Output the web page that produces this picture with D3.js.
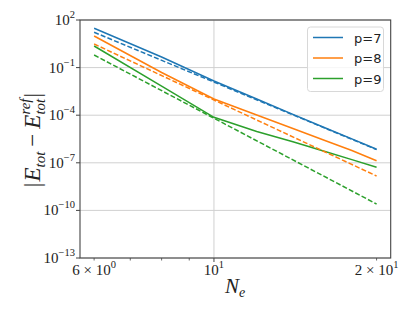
<!DOCTYPE html>
<html><head><meta charset="utf-8">
<script src="https://cdn.jsdelivr.net/npm/d3@7"></script>
<style>body{margin:0;background:#fff}</style>
</head><body><svg id="c" width="415" height="312"></svg>
<script>
// ---- data ----
const Ne = [6, 8, 10, 12, 14, 16, 18, 20];
const errP7 = [30.0, 0.466, 0.0143, 1.04e-3, 1.12e-4, 1.68e-5, 3.2e-6, 7.1e-7];
const errP8 = [9.8, 0.049, 1.05e-3, 1.03e-4, 1.45e-5, 2.66e-6, 5.96e-7, 1.35e-7];
const errP9 = [2.3, 6.9e-3, 7.4e-5, 9.5e-6, 2.1e-6, 5.3e-7, 1.59e-7, 5.2e-8];
const refNe = [6, 20];
const refP7 = [16.8, 6.8e-7];
const refP8 = [3.07, 1.47e-8];
const refP9 = [0.62, 2.53e-10];
const seriesNames = ["p=7", "p=8", "p=9"];
const yTickExps = [2, -1, -4, -7, -10, -13];
const xMajorTicks = [10];
const xMinorTicks = [6, 7, 8, 9, 20];
const xTickLabels = [{v: 6, m: "6 \u00d7 10", e: "0"}, {v: 10, m: "10", e: "1"}, {v: 20, m: "2 \u00d7 10", e: "1"}];

const colors = ["#1f77b4", "#ff7f0e", "#2ca02c"];
const svg = d3.select("#c");
const L = 80, R = 390.7, T = 20, B = 258;
const lx0 = Math.log10(6), lx1 = Math.log10(20), span = lx1 - lx0;
const x = d3.scaleLog().domain([Math.pow(10, lx0 - 0.05 * span), Math.pow(10, lx1 + 0.05 * span)]).range([L, R]);
const y = d3.scaleLog().domain([1e-13, 1e2]).range([B, T]);
const serif = "'Liberation Serif', 'DejaVu Serif', serif";

// grid
const g = svg.append("g");
g.selectAll("line.gy").data(yTickExps).join("line")
  .attr("x1", L).attr("x2", R).attr("y1", d => y(Math.pow(10, d))).attr("y2", d => y(Math.pow(10, d)))
  .attr("stroke", "#d0d0d0").attr("stroke-width", 1);
g.selectAll("line.gx").data(xMajorTicks).join("line")
  .attr("x1", d => x(d)).attr("x2", d => x(d)).attr("y1", T).attr("y2", B)
  .attr("stroke", "#d0d0d0").attr("stroke-width", 1);

// lines
const line = d3.line().x(d => x(d[0])).y(d => y(d[1]));
const solids = [errP7, errP8, errP9];
const refs = [refP7, refP8, refP9];
svg.append("defs").append("clipPath").attr("id", "cl").append("rect")
  .attr("x", L).attr("y", T).attr("width", R - L).attr("height", B - T);
const pg = svg.append("g").attr("clip-path", "url(#cl)");
solids.forEach((s, i) => {
  pg.append("path").attr("d", line(Ne.map((n, k) => [n, s[k]])))
    .attr("fill", "none").attr("stroke", colors[i]).attr("stroke-width", 1.5);
});
refs.forEach((s, i) => {
  pg.append("path").attr("d", line(refNe.map((n, k) => [n, s[k]])))
    .attr("fill", "none").attr("stroke", colors[i]).attr("stroke-width", 1.5)
    .attr("stroke-dasharray", "5,2.2");
});

// frame
svg.append("rect").attr("x", L).attr("y", T).attr("width", R - L).attr("height", B - T)
  .attr("fill", "none").attr("stroke", "#444").attr("stroke-width", 1.1);

// y ticks
yTickExps.forEach(e => {
  const yy = y(Math.pow(10, e));
  svg.append("line").attr("x1", L - 4).attr("x2", L).attr("y1", yy).attr("y2", yy).attr("stroke", "#444").attr("stroke-width", 1);
  const t = svg.append("text").attr("x", L - 5).attr("y", yy + 5).attr("text-anchor", "end")
    .attr("font-family", serif).attr("font-size", 15).attr("fill", "#222");
  t.append("tspan").text("10");
  t.append("tspan").attr("dy", -7).attr("font-size", 10.5).text(e < 0 ? "\u2212" + (-e) : String(e));
});
// x ticks
xMajorTicks.forEach(v => {
  svg.append("line").attr("x1", x(v)).attr("x2", x(v)).attr("y1", B).attr("y2", B + 4).attr("stroke", "#444").attr("stroke-width", 1);
});
xMinorTicks.forEach(v => {
  svg.append("line").attr("x1", x(v)).attr("x2", x(v)).attr("y1", B).attr("y2", B + 2.5).attr("stroke", "#444").attr("stroke-width", 0.8);
});
xTickLabels.forEach(d => {
  const t = svg.append("text").attr("x", x(d.v)).attr("y", B + 17).attr("text-anchor", "middle")
    .attr("font-family", serif).attr("font-size", 15).attr("fill", "#222");
  t.append("tspan").text(d.m);
  t.append("tspan").attr("dy", -7).attr("font-size", 10.5).text(d.e);
});

// x label
const xl = svg.append("text").attr("x", 235).attr("y", 293).attr("text-anchor", "middle")
  .attr("font-family", serif).attr("font-size", 21).attr("font-style", "italic").attr("fill", "#222");
xl.append("tspan").text("N");
xl.append("tspan").attr("dy", 4).attr("font-size", 14).text("e");

// y label composed
const yg = svg.append("g").attr("transform", "translate(33,140) rotate(-90)");
const inner = yg.append("g");
let cx = 0;
function piece(txt, size, italic, dy) {
  const t = inner.append("text").attr("x", cx).attr("y", dy).attr("font-family", serif)
    .attr("font-size", size).attr("font-style", italic ? "italic" : "normal").attr("fill", "#222").text(txt);
  return t.node().getComputedTextLength();
}
cx += piece("|", 23, false, 0) + 1;
cx += piece("E", 23, true, 0);
cx += piece("tot", 15, true, 5) + 5;
cx += piece("\u2212", 23, false, 0) + 5;
cx += piece("E", 23, true, 0);
const w1 = piece("tot", 15, true, 5);
const w2 = piece("ref", 15, true, -10);
cx += Math.max(w1, w2) + 1;
cx += piece("|", 23, false, 0);
inner.attr("transform", `translate(${-cx / 2},7)`);

// legend
const lg = svg.append("g");
lg.append("rect").attr("x", 307.5).attr("y", 27).attr("width", 76).attr("height", 64.5).attr("rx", 3)
  .attr("fill", "#fff").attr("fill-opacity", 0.8).attr("stroke", "#d8d8d8").attr("stroke-width", 1);
seriesNames.forEach((n, i) => {
  const yy = 37.5 + i * 20.5;
  lg.append("line").attr("x1", 313).attr("x2", 343).attr("y1", yy).attr("y2", yy)
    .attr("stroke", colors[i]).attr("stroke-width", 1.5);
  lg.append("text").attr("x", 354).attr("y", yy + 5).attr("font-family", "'DejaVu Sans', sans-serif")
    .attr("font-size", 13).attr("fill", "#222").text(n);
});
</script></body></html>
